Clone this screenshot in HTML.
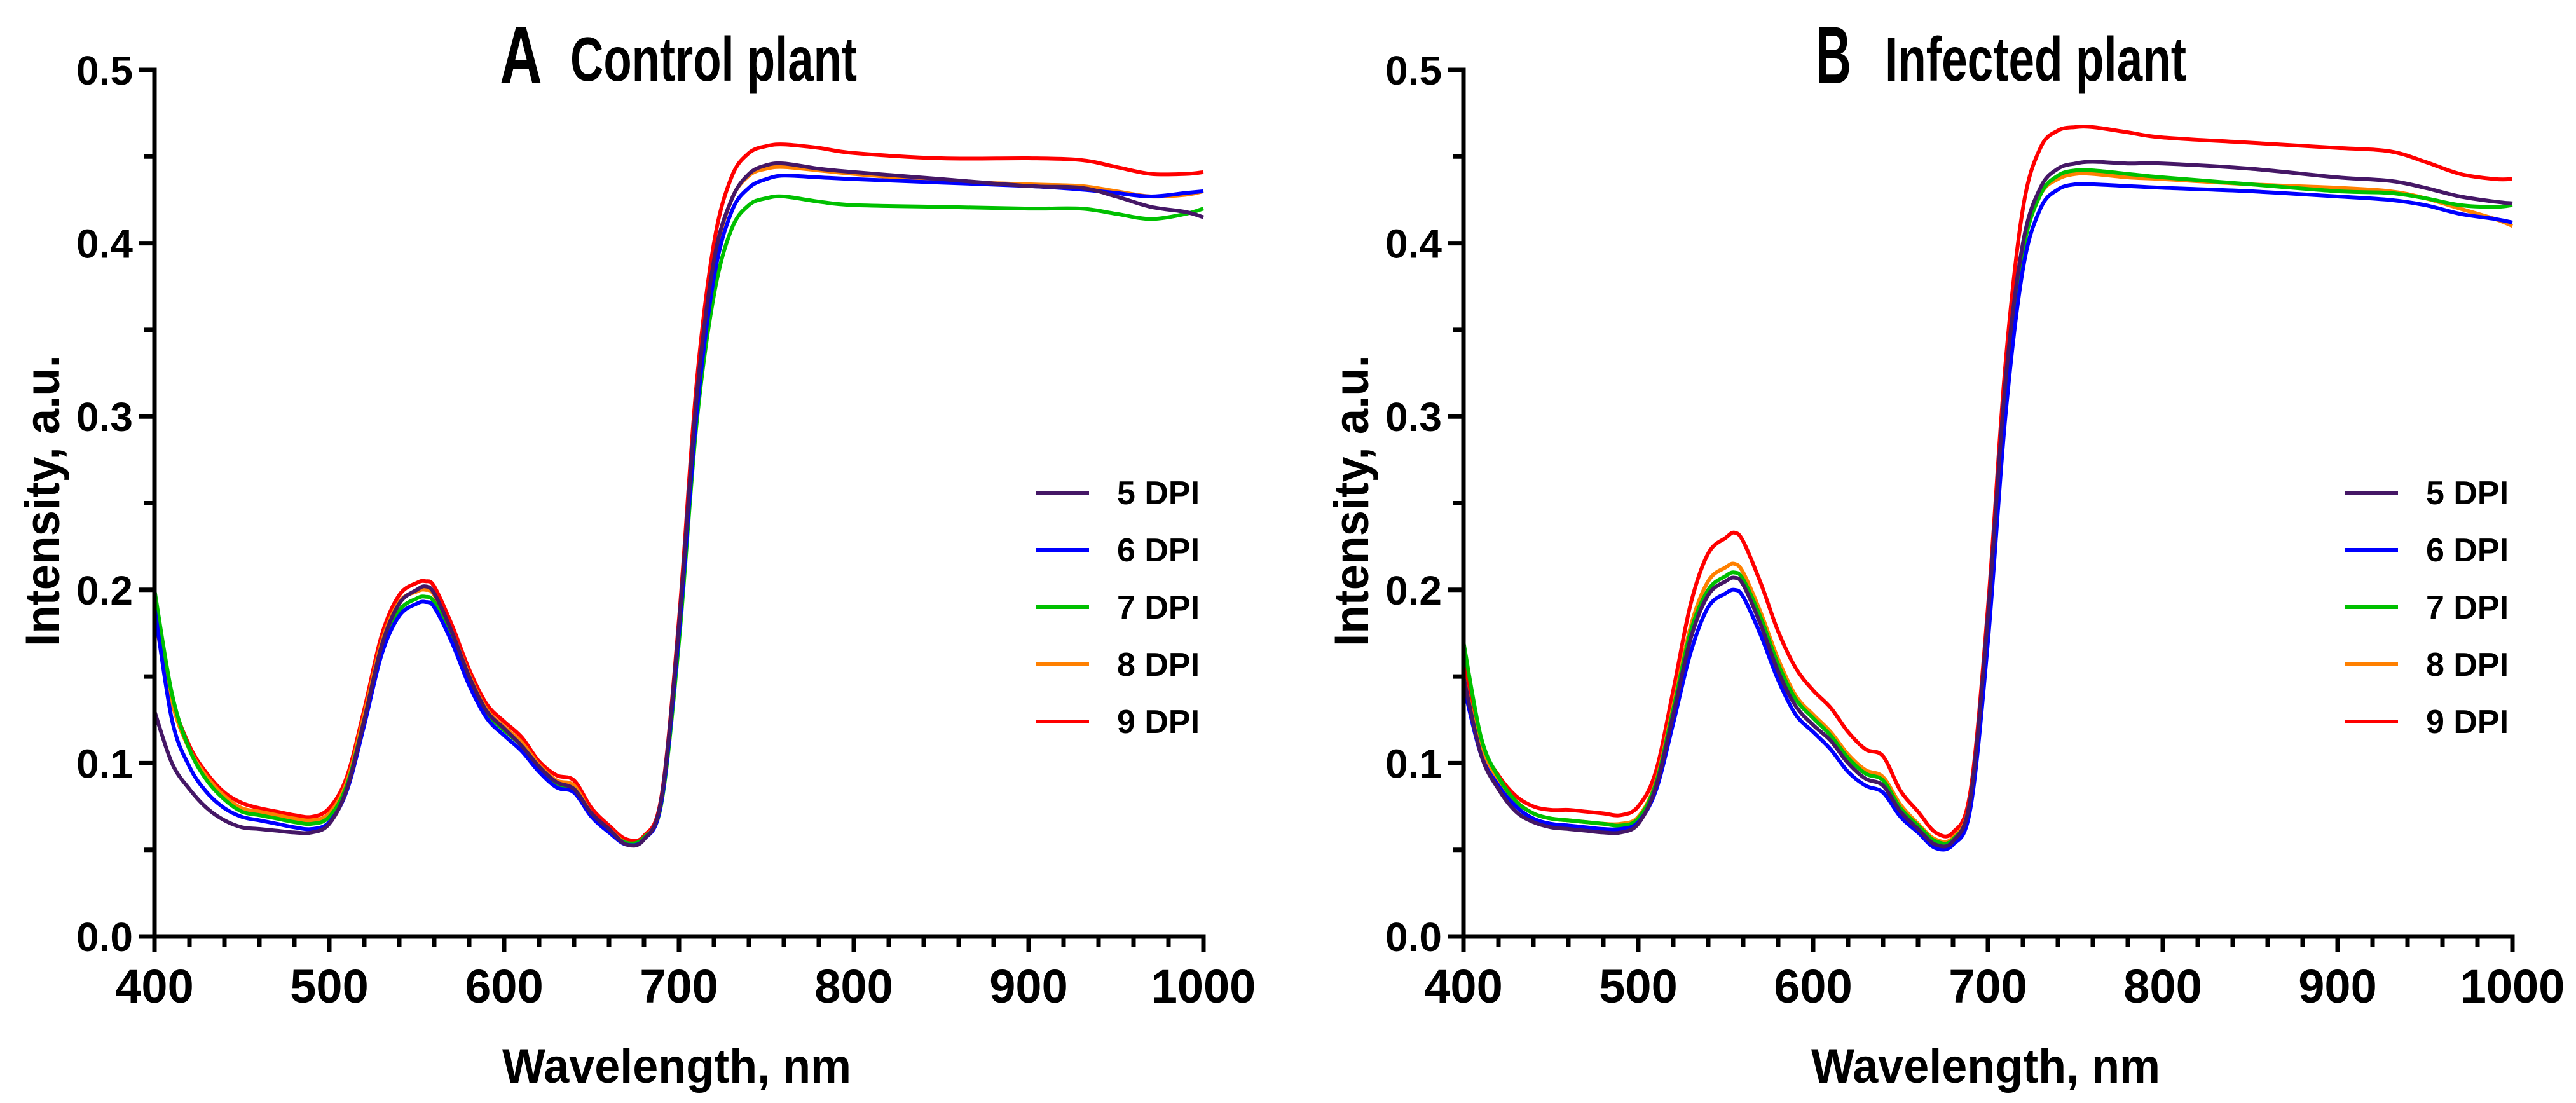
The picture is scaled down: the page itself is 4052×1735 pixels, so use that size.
<!DOCTYPE html>
<html><head><meta charset="utf-8"><style>
html,body{margin:0;padding:0;background:#fff;}
svg{display:block;font-family:"Liberation Sans",Arial,sans-serif;font-weight:bold;}
</style></head><body>
<svg id="fig" width="4052" height="1735" viewBox="0 0 4052 1735" xmlns="http://www.w3.org/2000/svg"></svg>
<script>
const wavelengths=[400,410,420,430,440,450,460,470,480,490,500,510,520,530,540,550,555,560,570,580,590,600,610,620,630,640,650,660,670,680,690,700,710,720,730,740,750,760,780,800,850,900,930,950,970,990,1000];
const seriesNames=["5 DPI","6 DPI","7 DPI","8 DPI","9 DPI"];
const xTicks=[400,500,600,700,800,900,1000];
const yTicks=[0.0,0.1,0.2,0.3,0.4,0.5];
const yTickLabels=["0.0","0.1","0.2","0.3","0.4","0.5"];
const controlA5=[0.130,0.100,0.085,0.074,0.067,0.063,0.062,0.061,0.060,0.060,0.065,0.085,0.125,0.168,0.192,0.200,0.202,0.198,0.176,0.150,0.130,0.120,0.110,0.098,0.089,0.085,0.071,0.062,0.053,0.056,0.080,0.180,0.310,0.390,0.425,0.440,0.445,0.446,0.443,0.441,0.437,0.433,0.432,0.427,0.421,0.418,0.415];
const controlA6=[0.190,0.125,0.098,0.083,0.074,0.069,0.067,0.065,0.063,0.062,0.066,0.084,0.122,0.163,0.185,0.192,0.193,0.190,0.170,0.145,0.126,0.116,0.107,0.095,0.086,0.083,0.069,0.060,0.053,0.056,0.078,0.175,0.300,0.380,0.418,0.432,0.437,0.439,0.438,0.437,0.435,0.433,0.431,0.429,0.427,0.429,0.430];
const controlA7=[0.200,0.140,0.108,0.090,0.079,0.072,0.070,0.068,0.066,0.065,0.069,0.087,0.125,0.166,0.188,0.195,0.196,0.193,0.173,0.148,0.129,0.119,0.110,0.097,0.088,0.085,0.070,0.061,0.054,0.057,0.077,0.170,0.295,0.370,0.408,0.422,0.426,0.427,0.424,0.422,0.421,0.420,0.420,0.417,0.414,0.417,0.420];
const controlA8=[0.185,0.135,0.108,0.092,0.081,0.074,0.072,0.070,0.068,0.067,0.071,0.089,0.128,0.170,0.193,0.199,0.200,0.197,0.176,0.151,0.131,0.121,0.112,0.099,0.090,0.087,0.071,0.062,0.054,0.057,0.079,0.178,0.308,0.388,0.425,0.439,0.443,0.444,0.442,0.440,0.436,0.434,0.433,0.430,0.427,0.428,0.430];
const controlA9=[0.190,0.138,0.110,0.094,0.083,0.077,0.074,0.072,0.070,0.069,0.074,0.092,0.131,0.174,0.197,0.204,0.205,0.202,0.180,0.154,0.134,0.124,0.115,0.101,0.093,0.090,0.074,0.064,0.056,0.058,0.081,0.183,0.318,0.400,0.438,0.452,0.456,0.457,0.455,0.452,0.449,0.449,0.448,0.444,0.440,0.440,0.441];
const infectedB5=[0.150,0.105,0.085,0.072,0.066,0.063,0.062,0.061,0.060,0.060,0.065,0.086,0.128,0.172,0.197,0.205,0.207,0.203,0.180,0.153,0.133,0.122,0.113,0.100,0.091,0.087,0.072,0.062,0.053,0.055,0.080,0.185,0.320,0.400,0.432,0.443,0.446,0.447,0.446,0.446,0.443,0.438,0.436,0.432,0.427,0.424,0.423];
const infectedB6=[0.145,0.105,0.087,0.075,0.068,0.065,0.064,0.063,0.062,0.062,0.066,0.084,0.123,0.164,0.190,0.198,0.200,0.196,0.174,0.148,0.128,0.118,0.108,0.095,0.087,0.083,0.069,0.060,0.051,0.053,0.074,0.170,0.300,0.385,0.420,0.431,0.434,0.434,0.433,0.432,0.430,0.427,0.425,0.422,0.417,0.414,0.412];
const infectedB7=[0.170,0.115,0.092,0.078,0.071,0.068,0.067,0.066,0.065,0.064,0.068,0.088,0.131,0.176,0.200,0.208,0.210,0.206,0.184,0.157,0.137,0.126,0.116,0.103,0.094,0.090,0.074,0.064,0.055,0.056,0.079,0.180,0.312,0.395,0.428,0.439,0.442,0.442,0.440,0.438,0.434,0.430,0.429,0.426,0.422,0.421,0.422];
const infectedB8=[0.150,0.108,0.090,0.078,0.071,0.068,0.067,0.066,0.065,0.065,0.069,0.089,0.133,0.179,0.205,0.213,0.215,0.210,0.187,0.160,0.139,0.128,0.118,0.105,0.096,0.092,0.076,0.065,0.056,0.057,0.080,0.182,0.315,0.397,0.428,0.437,0.440,0.440,0.438,0.437,0.434,0.432,0.430,0.426,0.420,0.414,0.410];
const infectedB9=[0.160,0.112,0.093,0.081,0.075,0.073,0.073,0.072,0.071,0.070,0.075,0.095,0.142,0.192,0.221,0.230,0.233,0.228,0.204,0.176,0.155,0.142,0.132,0.118,0.108,0.104,0.084,0.072,0.060,0.060,0.084,0.190,0.330,0.420,0.455,0.465,0.467,0.467,0.464,0.461,0.458,0.455,0.453,0.447,0.440,0.437,0.437];

const colors=["#451766","#0000ff","#00c000","#ff8000","#ff0000"];
const NS="http://www.w3.org/2000/svg";
const svg=document.getElementById('fig');
function mk(tag,attrs,parent,text){const e=document.createElementNS(NS,tag);for(const k in attrs)e.setAttribute(k,attrs[k]);if(text!==undefined)e.textContent=text;(parent||svg).appendChild(e);return e;}

function panel(key,x0,title,letter,letterX,letterW,titleX,titleW,data){
  const x1=x0+1650, yb=1473, yt=110;
  const sx=w=>x0+(w-400)/600*(x1-x0);
  const sy=v=>yb-v/0.5*(yb-yt);
  const g=mk('g',{});
  
  
  for(let s=data.length-1;s>=0;s--){
    const vals=data[s];
    const pts=wavelengths.map((w,i)=>[sx(w),sy(vals[i])]);
    let d='M'+pts[0][0].toFixed(1)+','+pts[0][1].toFixed(1);
    for(let i=0;i<pts.length-1;i++){
      const p0=pts[Math.max(0,i-1)],p1=pts[i],p2=pts[i+1],p3=pts[Math.min(pts.length-1,i+2)];
      const c1x=p1[0]+(p2[0]-p0[0])/6,c1y=p1[1]+(p2[1]-p0[1])/6;
      const c2x=p2[0]-(p3[0]-p1[0])/6,c2y=p2[1]-(p3[1]-p1[1])/6;
      d+=' C'+c1x.toFixed(1)+','+c1y.toFixed(1)+' '+c2x.toFixed(1)+','+c2y.toFixed(1)+' '+p2[0].toFixed(1)+','+p2[1].toFixed(1);
    }
    const p=mk('path',{d:d,fill:'none',stroke:colors[s],'stroke-width':6,'stroke-linejoin':'round'},g);
    
    
  }
  const ax=mk('path',{d:`M${x0},${yt} V${yb} H${x1}`,fill:'none',stroke:'#000','stroke-width':7,'stroke-linecap':'square'},g);
  
  
  mk('line',{x1:x0-20,y1:yt,x2:x0,y2:yt,stroke:'#000','stroke-width':7},g);
  for(let w=400;w<=1000;w+=20){
    const major=(w%100===0);
    mk('line',{x1:sx(w),y1:yb,x2:sx(w),y2:yb+(major?24:17),stroke:'#000','stroke-width':7},g);
  }
  for(let v=0;v<=0.5001;v+=0.05){
    const major=Math.abs(v*10-Math.round(v*10))<1e-6;
    mk('line',{x1:x0-(major?24:17),y1:sy(v),x2:x0,y2:sy(v),stroke:'#000','stroke-width':7},g);
  }
  xTicks.forEach(w=>{
    const t=mk('text',{x:sx(w),y:1577,'text-anchor':'middle','font-size':74},g,String(w));
    
    
  });
  yTicks.forEach((v,i)=>{
    const t=mk('text',{x:x0-34,y:sy(v)+23,'text-anchor':'end','font-size':64},g,yTickLabels[i]);
    
    
  });
  const xt=mk('text',{x:x0+547,y:1703,'font-size':76,textLength:549,lengthAdjust:'spacingAndGlyphs'},g,'Wavelength, nm');
  
  
  const yx=x0-150;
  const yti=mk('text',{x:-229,y:0,'font-size':76,textLength:459,lengthAdjust:'spacingAndGlyphs',transform:`translate(${yx},788) rotate(-90)`},g,'Intensity, a.u.');
  
  
  const lt=mk('text',{x:letterX,y:131,'font-size':128,textLength:letterW,lengthAdjust:'spacingAndGlyphs'},g,letter);
  
  
  const tt=mk('text',{x:titleX,y:127,'font-size':98,textLength:titleW,lengthAdjust:'spacingAndGlyphs'},g,title);
  
  
  seriesNames.forEach((n,i)=>{
    const ly=775+i*90;
    const le=mk('g',{},g);
    
    
    mk('line',{x1:x0+1387,y1:ly,x2:x0+1470,y2:ly,stroke:colors[i],'stroke-width':6},le);
    mk('text',{x:x0+1514,y:ly+18,'font-size':52},le,n);
  });
}
panel('control',243,'Control plant','A',786,67,897,451,[controlA5,controlA6,controlA7,controlA8,controlA9]);
panel('infected',2302,'Infected plant','B',2856,56,2965,474,[infectedB5,infectedB6,infectedB7,infectedB8,infectedB9]);
</script>
</body></html>
